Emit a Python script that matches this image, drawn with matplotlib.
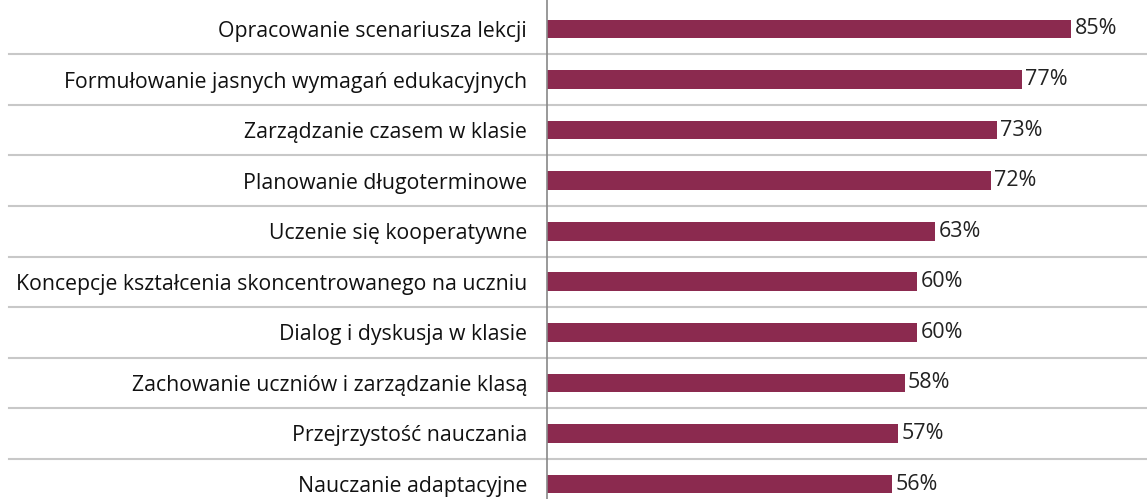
import matplotlib
matplotlib.use("Agg")
import matplotlib.pyplot as plt
from matplotlib.transforms import blended_transform_factory
from matplotlib.lines import Line2D

categories = [
    "Opracowanie scenariusza lekcji",
    "Formułowanie jasnych wymagań edukacyjnych",
    "Zarządzanie czasem w klasie",
    "Planowanie długoterminowe",
    "Uczenie się kooperatywne",
    "Koncepcje kształcenia skoncentrowanego na uczniu",
    "Dialog i dyskusja w klasie",
    "Zachowanie uczniów i zarządzanie klasą",
    "Przejrzystość nauczania",
    "Nauczanie adaptacyjne",
]
values = [85, 77, 73, 72, 63, 60, 60, 58, 57, 56]

W, H = 1147, 499
fig = plt.figure(figsize=(W / 100, H / 100), dpi=100)
ax_left = 547 / W
ax = fig.add_axes([ax_left, 0, 1 - ax_left, 1])
ax.set_facecolor("none")

bar_color = "#8B2A4F"
y = list(range(len(categories)))
ax.barh(y, values, height=0.37, color=bar_color, zorder=3)

ax.set_xlim(0, 600 / 6.165)
spacing = (484 - 29) / 9
ax.set_ylim(9 + (H - 484) / spacing, -29 / spacing)

for i, v in enumerate(values):
    ax.text(v + 0.55, i, f"{v}%", va="center", ha="left", fontsize=15.5,
            color="#222222", family="Open Sans")

ax.set_yticks(y)
ax.set_yticklabels(categories, fontsize=15.3, family="Open Sans", color="#111111")
ax.tick_params(axis="y", length=0, pad=14.4)
ax.set_xticks([])
for s in ["top", "right", "bottom"]:
    ax.spines[s].set_visible(False)
ax.spines["left"].set_color("#888888")
ax.spines["left"].set_linewidth(1.2)
ax.spines["left"].set_zorder(4)

tr = blended_transform_factory(fig.transFigure, ax.transData)
for i in range(len(categories) - 1):
    fig.add_artist(Line2D([9 / W, 1], [i + 0.5, i + 0.5], transform=tr,
                          color="#c8c8c8", linewidth=1.5, zorder=0))

fig.savefig("out.png", dpi=100)
